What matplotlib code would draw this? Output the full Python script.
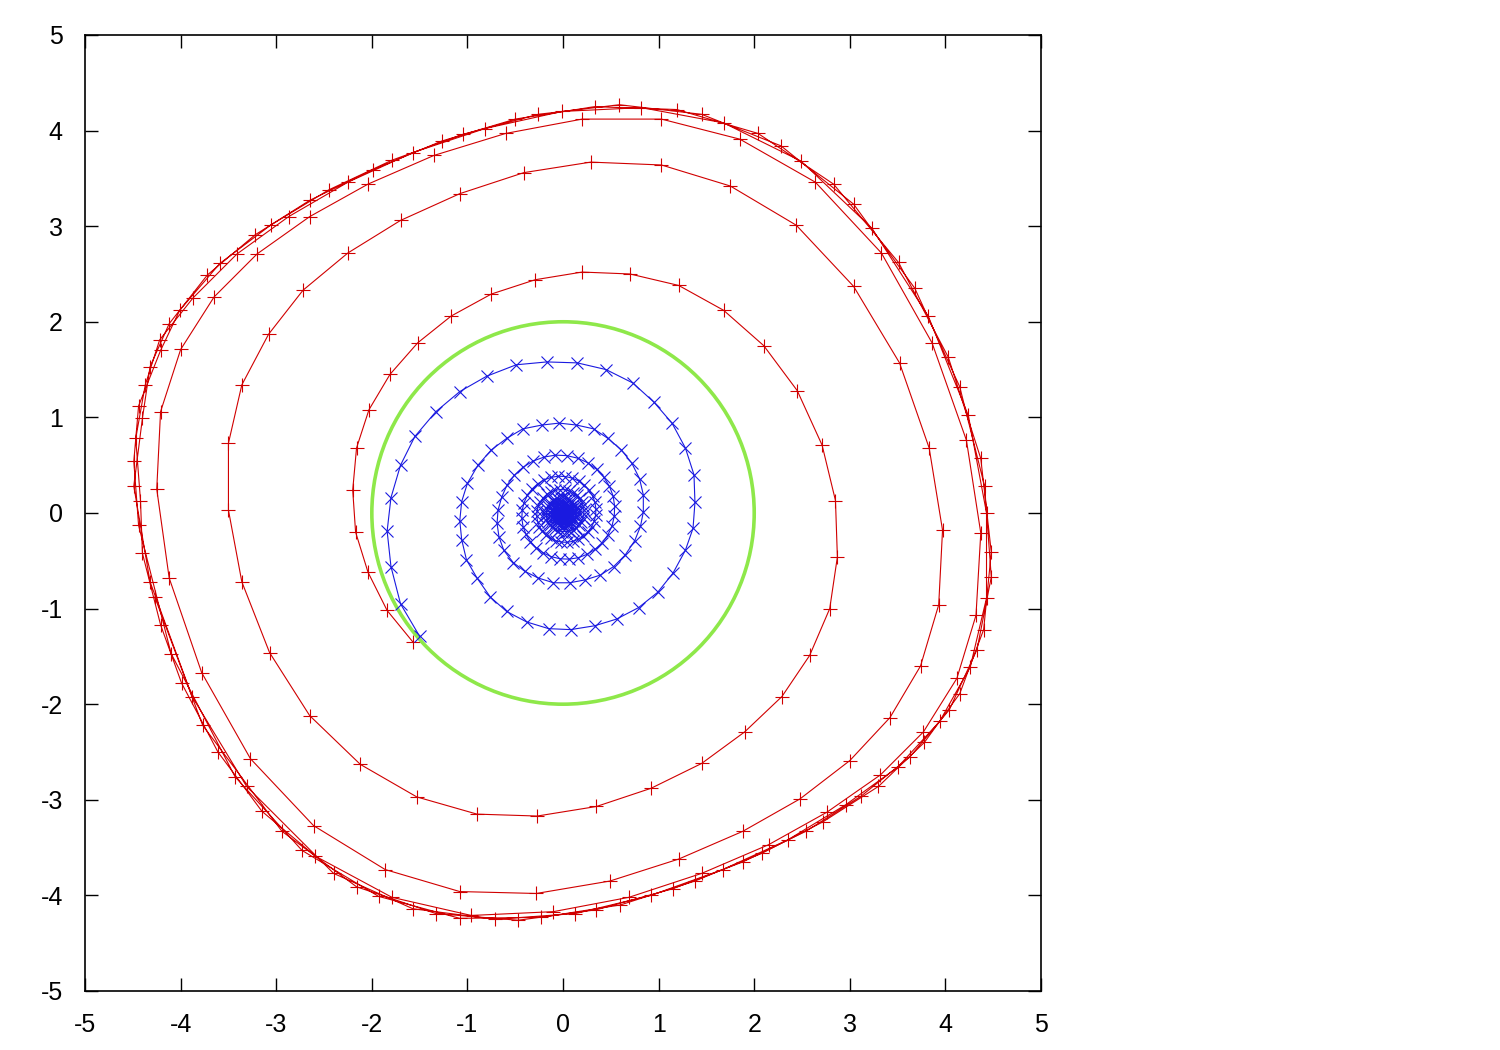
import matplotlib
matplotlib.use("Agg")
import matplotlib.pyplot as plt
from matplotlib.patches import Circle

plt.rcParams["font.family"] = ["Liberation Sans", "DejaVu Sans"]
plt.rcParams["axes.unicode_minus"] = False

# red trajectory: first three turns, read marker by marker
red_turns = [
    (-1.57, -1.35), (-1.84, -1.02), (-2.04, -0.62), (-2.17, -0.20), (-2.20, 0.24),
    (-2.16, 0.68), (-2.03, 1.08), (-1.81, 1.45), (-1.52, 1.78), (-1.17, 2.06),
    (-0.75, 2.29), (-0.29, 2.44), (0.20, 2.52), (0.70, 2.50), (1.21, 2.38),
    (1.68, 2.12), (2.10, 1.75), (2.45, 1.28), (2.71, 0.71), (2.85, 0.13),
    (2.87, -0.46), (2.79, -1.00), (2.58, -1.49), (2.29, -1.92), (1.90, -2.29),
    (1.45, -2.62), (0.92, -2.88), (0.35, -3.07), (-0.27, -3.17), (-0.90, -3.15),
    (-1.53, -2.97), (-2.12, -2.63), (-2.65, -2.12), (-3.07, -1.46), (-3.36, -0.72),
    (-3.50, 0.03), (-3.50, 0.73), (-3.36, 1.34), (-3.08, 1.87), (-2.72, 2.33),
    (-2.25, 2.72), (-1.70, 3.06), (-1.08, 3.34), (-0.41, 3.56), (0.29, 3.67),
    (1.03, 3.64), (1.75, 3.42), (2.44, 3.01), (3.04, 2.37), (3.52, 1.57),
    (3.83, 0.68), (3.97, -0.18), (3.93, -0.96), (3.74, -1.60), (3.42, -2.14),
    (3.00, -2.59), (2.48, -2.99), (1.88, -3.33), (1.21, -3.62), (0.49, -3.85),
    (-0.28, -3.98), (-1.08, -3.96), (-1.86, -3.73), (-2.61, -3.27), (-3.27, -2.57),
    (-3.78, -1.67), (-4.12, -0.68), (-4.25, 0.25), (-4.21, 1.06), (-4.00, 1.71),
    (-3.65, 2.26), (-3.20, 2.71), (-2.65, 3.10), (-2.04, 3.44), (-1.35, 3.74),
    (-0.60, 3.97), (0.20, 4.12), (1.03, 4.12), (1.85, 3.91), (2.64, 3.46),
    (3.33, 2.72), (3.86, 1.78), (4.22, 0.76), (4.37, -0.21), (4.32, -1.07),
    (4.12, -1.73), (3.77, -2.29), (3.32, -2.74), (2.76, -3.13), (2.15, -3.47),
    (1.45, -3.77), (0.69, -4.02), (-0.10, -4.17), (-0.96, -4.21), (-1.79, -4.02),
    (-2.59, -3.59), (-3.15, -3.12), (-3.61, -2.50), (-3.99, -1.78), (-4.21, -1.17),
    (-4.40, -0.42),
]

# markers of the outer bundle (last three turns), in order round the cycle
red_outer = [
    (-4.42, 0.13), (-4.49, 0.28), (-4.49, 0.54), (-4.47, 0.78), (-4.40, 0.99),
    (-4.44, 1.12), (-4.37, 1.34), (-4.32, 1.53), (-4.21, 1.70), (-4.22, 1.81),
    (-4.12, 1.98), (-4.01, 2.12), (-3.87, 2.25), (-3.72, 2.49), (-3.59, 2.61),
    (-3.41, 2.71), (-3.22, 2.91), (-3.06, 3.01), (-2.87, 3.10), (-2.65, 3.27),
    (-2.45, 3.38), (-2.25, 3.46), (-1.99, 3.59), (-1.79, 3.69), (-1.57, 3.77),
    (-1.27, 3.89), (-1.05, 3.96), (-0.82, 4.02), (-0.50, 4.12), (-0.26, 4.17),
    (-0.01, 4.20), (0.33, 4.25), (0.59, 4.27), (0.82, 4.24), (1.19, 4.22),
    (1.45, 4.17), (1.68, 4.08), (2.04, 3.97), (2.28, 3.84), (2.49, 3.68),
    (2.83, 3.44), (3.04, 3.23), (3.23, 2.98), (3.51, 2.62), (3.68, 2.35),
    (3.82, 2.06), (4.03, 1.63), (4.15, 1.32), (4.24, 1.02), (4.37, 0.57),
    (4.41, 0.28), (4.43, 0.00), (4.48, -0.41), (4.48, -0.67), (4.43, -0.89),
    (4.40, -1.22), (4.33, -1.43), (4.26, -1.61), (4.15, -1.89), (4.04, -2.06),
    (3.94, -2.18), (3.78, -2.40), (3.63, -2.55), (3.50, -2.66), (3.30, -2.86),
    (3.12, -2.96), (2.96, -3.05), (2.72, -3.23), (2.54, -3.33), (2.35, -3.42),
    (2.08, -3.56), (1.88, -3.65), (1.67, -3.73), (1.38, -3.85), (1.15, -3.93),
    (0.92, -4.00), (0.60, -4.10), (0.35, -4.15), (0.13, -4.19), (-0.23, -4.23),
    (-0.47, -4.26), (-0.71, -4.25), (-1.08, -4.24), (-1.33, -4.19), (-1.57, -4.14),
    (-1.93, -4.01), (-2.16, -3.91), (-2.40, -3.77), (-2.73, -3.53), (-2.94, -3.33),
    (-3.31, -2.86), (-3.43, -2.76), (-3.77, -2.22), (-3.88, -1.92), (-4.10, -1.47),
    (-4.27, -0.88), (-4.32, -0.72), (-4.44, -0.13),
]

# blue trajectory: outer turns
blue_outer = [
    (-1.50, -1.29), (-1.70, -0.95), (-1.80, -0.56), (-1.84, -0.19), (-1.80, 0.16),
    (-1.70, 0.50), (-1.55, 0.80), (-1.33, 1.06), (-1.08, 1.27), (-0.80, 1.43),
    (-0.49, 1.55), (-0.17, 1.58), (0.15, 1.57), (0.45, 1.50), (0.73, 1.36),
    (0.95, 1.16), (1.14, 0.94), (1.28, 0.68), (1.37, 0.40), (1.38, 0.11),
    (1.36, -0.16), (1.28, -0.39), (1.15, -0.63), (0.99, -0.83), (0.79, -0.99),
    (0.56, -1.11), (0.33, -1.18), (0.08, -1.22), (-0.15, -1.21), (-0.38, -1.14),
    (-0.59, -1.03), (-0.76, -0.88), (-0.90, -0.68), (-1.01, -0.49), (-1.06, -0.28),
    (-1.08, -0.08), (-1.06, 0.12), (-1.00, 0.31), (-0.89, 0.50), (-0.75, 0.66),
    (-0.59, 0.78), (-0.42, 0.88), (-0.22, 0.92), (-0.04, 0.94), (0.14, 0.92),
    (0.32, 0.88), (0.47, 0.78), (0.61, 0.66), (0.72, 0.52), (0.80, 0.36),
    (0.84, 0.19), (0.84, 0.01), (0.81, -0.14), (0.75, -0.29), (0.65, -0.44),
    (0.53, -0.56), (0.39, -0.65), (0.23, -0.70), (0.07, -0.73), (-0.10, -0.73),
    (-0.26, -0.68), (-0.40, -0.61), (-0.52, -0.52), (-0.62, -0.39), (-0.67, -0.25),
    (-0.69, -0.11), (-0.68, 0.03), (-0.64, 0.17),
]

# blue inner turns: estimated from the dense core
blue_inner = [
    (-0.587, 0.289), (-0.511, 0.393), (-0.419, 0.478), (-0.314, 0.543), (-0.198, 0.585),
    (-0.080, 0.605), (0.039, 0.600), (0.154, 0.573), (0.259, 0.525), (0.351, 0.457),
    (0.427, 0.374), (0.485, 0.280), (0.524, 0.178), (0.540, 0.071), (0.536, -0.035),
    (0.512, -0.137), (0.468, -0.231), (0.408, -0.314), (0.334, -0.381), (0.250, -0.433),
    (0.159, -0.468), (0.064, -0.483), (-0.031, -0.479), (-0.123, -0.457), (-0.206, -0.418),
    (-0.280, -0.365), (-0.341, -0.299), (-0.387, -0.224), (-0.418, -0.142), (-0.431, -0.057),
    (-0.427, 0.028), (-0.408, 0.109),
    (-0.373, 0.184), (-0.325, 0.250), (-0.266, 0.304), (-0.200, 0.346), (-0.126, 0.372),
    (-0.051, 0.385), (0.025, 0.381), (0.098, 0.364), (0.164, 0.334), (0.223, 0.290),
    (0.272, 0.239), (0.309, 0.179), (0.333, 0.113), (0.344, 0.045), (0.341, -0.022),
    (0.326, -0.087), (0.298, -0.147), (0.259, -0.199), (0.213, -0.243), (0.159, -0.275),
    (0.101, -0.297), (0.041, -0.307), (-0.020, -0.304), (-0.078, -0.291), (-0.131, -0.266),
    (-0.178, -0.232), (-0.217, -0.190), (-0.247, -0.143), (-0.265, -0.090), (-0.275, -0.036),
    (-0.271, 0.018), (-0.260, 0.070),
    (-0.238, 0.117), (-0.207, 0.159), (-0.170, 0.194), (-0.127, 0.220), (-0.080, 0.237),
    (-0.032, 0.245), (0.016, 0.243), (0.062, 0.232), (0.105, 0.213), (0.142, 0.185),
    (0.173, 0.152), (0.197, 0.114), (0.212, 0.072), (0.219, 0.029), (0.218, -0.014),
    (0.208, -0.056), (0.189, -0.093), (0.165, -0.127), (0.136, -0.155), (0.102, -0.176),
    (0.064, -0.189), (0.026, -0.195), (-0.013, -0.194), (-0.050, -0.185), (-0.084, -0.170),
    (-0.113, -0.147), (-0.138, -0.121), (-0.157, -0.091), (-0.169, -0.057), (-0.174, -0.023),
    (-0.173, 0.011), (-0.165, 0.044),
    (-0.152, 0.075), (-0.132, 0.101), (-0.108, 0.123), (-0.081, 0.140), (-0.051, 0.151),
    (-0.021, 0.156), (0.010, 0.155), (0.040, 0.148), (0.067, 0.135), (0.090, 0.117),
    (0.111, 0.097), (0.126, 0.073), (0.135, 0.046), (0.140, 0.018), (0.139, -0.009),
    (0.132, -0.035), (0.120, -0.059), (0.105, -0.080), (0.086, -0.099), (0.065, -0.112),
    (0.041, -0.120), (0.016, -0.124), (-0.008, -0.124), (-0.032, -0.118), (-0.053, -0.108),
    (-0.072, -0.094), (-0.088, -0.077), (-0.100, -0.058), (-0.107, -0.036), (-0.111, -0.015),
    (-0.110, 0.007), (-0.105, 0.028),
    (-0.097, 0.048), (-0.084, 0.065), (-0.069, 0.078), (-0.052, 0.089), (-0.032, 0.096),
    (-0.013, 0.099), (0.006, 0.099), (0.025, 0.094), (0.042, 0.086), (0.057, 0.075),
    (0.071, 0.062), (0.080, 0.046), (0.086, 0.029), (0.089, 0.012), (0.089, -0.006),
    (0.084, -0.023), (0.076, -0.038), (0.067, -0.051), (0.055, -0.062), (0.041, -0.071),
    (0.026, -0.077), (0.010, -0.079), (-0.005, -0.079), (-0.020, -0.075), (-0.034, -0.068),
    (-0.046, -0.059), (-0.056, -0.049), (-0.063, -0.037), (-0.068, -0.023), (-0.070, -0.009),
    (-0.070, 0.005), (-0.067, 0.018),
    (-0.062, 0.030), (-0.054, 0.041), (-0.043, 0.050), (-0.033, 0.057), (-0.021, 0.061),
    (-0.008, 0.063), (0.004, 0.063), (0.016, 0.060), (0.027, 0.055), (0.037, 0.048),
    (0.045, 0.040), (0.051, 0.030), (0.055, 0.019), (0.056, 0.007), (0.057, -0.004),
    (0.053, -0.014), (0.048, -0.024), (0.043, -0.033), (0.035, -0.040), (0.026, -0.045),
    (0.017, -0.049), (0.007, -0.051), (-0.003, -0.050), (-0.013, -0.048), (-0.021, -0.043),
    (-0.029, -0.038), (-0.036, -0.032), (-0.041, -0.024), (-0.044, -0.015), (-0.045, -0.006),
    (-0.045, 0.003), (-0.043, 0.011),
]

circle_center = (0.0, 0.0)
circle_radius = 2.0

ticks = [-5, -4, -3, -2, -1, 0, 1, 2, 3, 4, 5]

# the bundle holds three interleaved turns: every third marker is one turn
red_path = red_turns + red_outer[0::3] + red_outer[1::3] + red_outer[2::3]
red_x = [p[0] for p in red_path]
red_y = [p[1] for p in red_path]

blue_path = blue_outer + blue_inner
blue_x = [p[0] for p in blue_path]
blue_y = [p[1] for p in blue_path]

fig = plt.figure(figsize=(15, 10.5), dpi=100)
ax = fig.add_axes([0.0567, 0.0562, 0.6373, 0.9105])

ax.plot(red_x, red_y, color="#d00000", linewidth=0.8, marker="+",
        markersize=10, markeredgewidth=0.8, zorder=2)

ax.add_patch(Circle(circle_center, circle_radius, fill=False,
                    edgecolor="#8ee84a", linewidth=2.6, zorder=3))

ax.plot(blue_x, blue_y, color="#1a1ae0", linewidth=0.8, marker="x",
        markersize=9, markeredgewidth=0.8, zorder=4)

ax.set_xlim(-5, 5)
ax.set_ylim(-5, 5)
ax.set_xticks(ticks)
ax.set_yticks(ticks)
ax.tick_params(direction="in", length=9.5, width=1, top=True, right=True,
               labelsize=18, pad=16)
for spine in ax.spines.values():
    spine.set_linewidth(1.2)

fig.savefig("out.png", dpi=100)
